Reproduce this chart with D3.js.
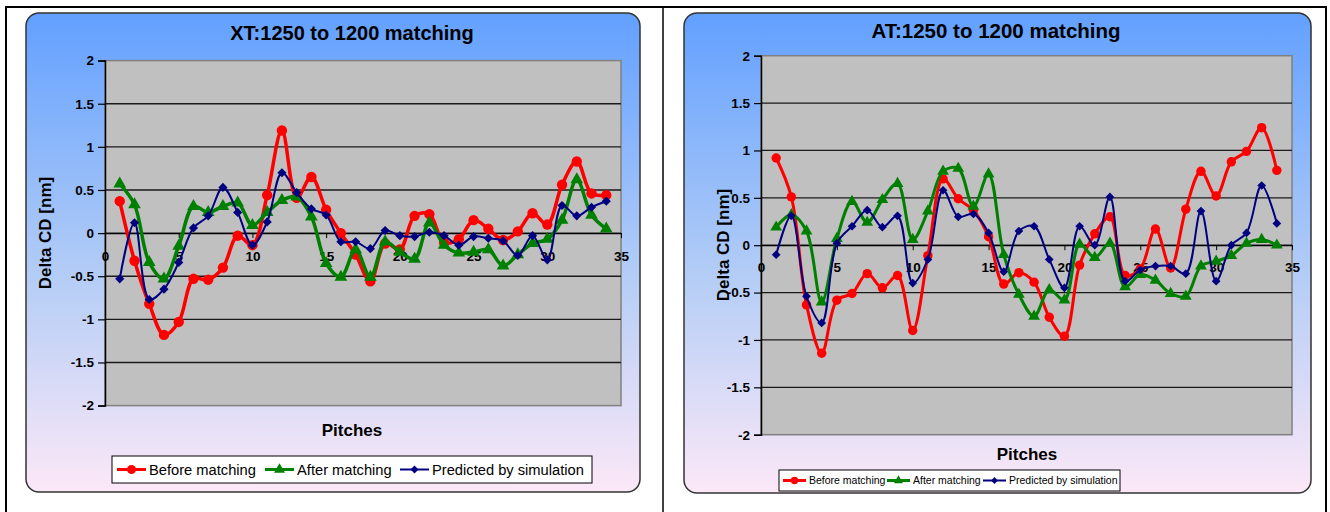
<!DOCTYPE html>
<html>
<head>
<meta charset="utf-8">
<script src="https://cdn.jsdelivr.net/npm/d3@7"></script>
<style>
  body { margin: 0; background: #fff; }
  text { font-family: "Liberation Sans", Arial, sans-serif; }
</style>
</head>
<body>
<div id="chart"></div>
<script>
// pitch numbers (x values)
const pitches = [1,2,3,4,5,6,7,8,9,10,11,12,13,14,15,16,17,18,19,20,21,22,23,24,25,26,27,28,29,30,31,32,33,34];
const xTicks = [0,5,10,15,20,25,30,35];
const yTicks = [-2,-1.5,-1,-0.5,0,0.5,1,1.5,2];
const seriesNames = ["Before matching", "After matching", "Predicted by simulation"];

// XT chart
const xtBefore = [0.37,-0.32,-0.82,-1.18,-1.03,-0.53,-0.54,-0.40,-0.03,-0.14,0.44,1.19,0.41,0.65,0.27,0.00,-0.25,-0.56,-0.12,-0.19,0.20,0.22,-0.11,-0.07,0.15,0.05,-0.08,0.02,0.23,0.10,0.56,0.83,0.46,0.44];
const xtAfter  = [0.57,0.33,-0.34,-0.53,-0.15,0.31,0.24,0.31,0.35,0.09,0.24,0.38,0.42,0.19,-0.35,-0.51,-0.19,-0.51,-0.10,-0.22,-0.30,0.12,-0.14,-0.23,-0.22,-0.19,-0.38,-0.25,-0.12,-0.07,0.15,0.62,0.21,0.05];
const xtPred   = [-0.53,0.12,-0.77,-0.65,-0.34,0.06,0.20,0.53,0.24,-0.14,0.13,0.70,0.47,0.28,0.21,-0.10,-0.10,-0.18,0.03,-0.03,-0.04,0.01,-0.03,-0.14,-0.04,-0.06,-0.09,-0.26,-0.03,-0.31,0.32,0.20,0.30,0.37];

// AT chart
const atBefore = [0.92,0.51,-0.63,-1.14,-0.58,-0.51,-0.30,-0.45,-0.32,-0.90,-0.11,0.70,0.49,0.37,0.09,-0.41,-0.29,-0.39,-0.76,-0.96,-0.21,0.12,0.30,-0.32,-0.25,0.17,-0.24,0.38,0.78,0.52,0.88,0.99,1.24,0.79];
const atAfter  = [0.19,0.32,0.15,-0.60,0.07,0.46,0.24,0.48,0.65,0.06,0.36,0.78,0.81,0.41,0.75,-0.10,-0.52,-0.75,-0.47,-0.58,0.01,-0.13,0.02,-0.44,-0.31,-0.37,-0.51,-0.54,-0.22,-0.17,-0.11,0.02,0.06,0.00];
const atPred   = [-0.10,0.31,-0.54,-0.82,0.02,0.20,0.37,0.19,0.31,-0.40,-0.15,0.58,0.30,0.33,0.13,-0.28,0.15,0.20,-0.15,-0.45,0.20,0.00,0.51,-0.38,-0.26,-0.22,-0.22,-0.30,0.36,-0.38,0.00,0.13,0.63,0.23];

const width = 1330, height = 512;
const svg = d3.select("#chart").append("svg")
  .attr("width", width).attr("height", height);

const defs = svg.append("defs");
const grad = defs.append("linearGradient")
  .attr("id", "panelGrad").attr("x1", 0).attr("y1", 0).attr("x2", 0).attr("y2", 1);
grad.append("stop").attr("offset", "0%").attr("stop-color", "#62a0ff");
grad.append("stop").attr("offset", "55%").attr("stop-color", "#b4cdf6");
grad.append("stop").attr("offset", "100%").attr("stop-color", "#fce8f7");

// table borders around the two charts
svg.append("rect").attr("x", 6).attr("y", 7).attr("width", 1320).attr("height", 520)
  .attr("fill", "none").attr("stroke", "#000").attr("stroke-width", 2);
svg.append("line").attr("x1", 663).attr("x2", 663).attr("y1", 7).attr("y2", 512)
  .attr("stroke", "#000").attr("stroke-width", 1.5);

const colors = ["#ff0000", "#008000", "#000080"];
const symbols = [d3.symbolCircle, d3.symbolTriangle, d3.symbolSquare];
const fontFam = "Liberation Sans, Arial, sans-serif";

function drawChart(c) {
  const g = svg.append("g");

  g.append("rect")
    .attr("x", c.panel[0]).attr("y", c.panel[1])
    .attr("width", c.panel[2] - c.panel[0]).attr("height", c.panel[3] - c.panel[1])
    .attr("rx", 13).attr("ry", 13)
    .attr("fill", "url(#panelGrad)")
    .attr("stroke", "#333").attr("stroke-width", 1.5);

  const x = d3.scaleLinear().domain([0, 35]).range([c.plot[0], c.plot[2]]);
  const y = d3.scaleLinear().domain([-2, 2]).range([c.plot[3], c.plot[1]]);

  g.append("rect")
    .attr("x", x(0)).attr("y", y(2))
    .attr("width", x(35) - x(0)).attr("height", y(-2) - y(2))
    .attr("fill", "#c0c0c0").attr("stroke", "#808080").attr("stroke-width", 1.5);

  // gridlines
  g.selectAll(".grid").data(yTicks.filter(d => d > -2 && d < 2))
    .join("line")
    .attr("x1", x(0)).attr("x2", x(35))
    .attr("y1", d => y(d)).attr("y2", d => y(d))
    .attr("stroke", "#1a1a1a").attr("stroke-width", 1.3);

  // y axis
  const yAxis = g.append("g").attr("transform", `translate(${x(0)},0)`)
    .call(d3.axisLeft(y).tickValues(yTicks).tickSize(7).tickPadding(4).tickFormat(d => String(d)));
  yAxis.attr("font-size", c.tickFont).attr("font-family", fontFam).attr("font-weight", "bold");
  yAxis.select(".domain").attr("stroke", "#000").attr("stroke-width", 1.5);
  yAxis.selectAll(".tick line").attr("stroke", "#000").attr("stroke-width", 1.2);
  yAxis.selectAll(".tick text").attr("fill", "#000");

  // x axis crossing at zero
  const xAxis = g.append("g").attr("transform", `translate(0,${y(0)})`)
    .call(d3.axisBottom(x).tickValues(xTicks).tickSize(5).tickPadding(c.xPad).tickSizeOuter(0).tickFormat(d => String(d)));
  xAxis.attr("font-size", c.tickFont).attr("font-family", fontFam).attr("font-weight", "bold");
  xAxis.select(".domain").attr("stroke", "#000").attr("stroke-width", 1.3);
  xAxis.selectAll(".tick line").attr("stroke", "#000");
  xAxis.selectAll(".tick text").attr("fill", "#000");

  // series
  const line = d3.line()
    .x((d, i) => x(pitches[i]))
    .y(d => y(d))
    .curve(d3.curveCatmullRom.alpha(0.5));

  c.series.forEach((vals, k) => {
    g.append("path").datum(vals)
      .attr("d", line)
      .attr("fill", "none")
      .attr("stroke", colors[k])
      .attr("stroke-width", c.lineW[k]);
    g.selectAll(".m" + k).data(vals).join("path")
      .attr("transform", (d, i) => `translate(${x(pitches[i])},${y(d)})` + (k === 2 ? " rotate(45)" : ""))
      .attr("d", d3.symbol().type(symbols[k]).size(c.markSize[k]))
      .attr("fill", colors[k]);
  });

  // titles
  g.append("text").attr("x", c.titlePos[0]).attr("y", c.titlePos[1])
    .attr("text-anchor", "middle").attr("font-size", c.titleFont).attr("font-weight", "bold")
    .text(c.title);
  g.append("text").attr("x", c.xLabelPos[0]).attr("y", c.xLabelPos[1])
    .attr("text-anchor", "middle").attr("font-size", 17).attr("font-weight", "bold")
    .text("Pitches");
  g.append("text")
    .attr("transform", `translate(${c.yLabelPos[0]},${c.yLabelPos[1]}) rotate(-90)`)
    .attr("text-anchor", "middle").attr("font-size", 17).attr("font-weight", "bold")
    .text("Delta CD [nm]");

  // legend
  const L = c.legend;
  g.append("rect").attr("x", L.box[0]).attr("y", L.box[1])
    .attr("width", L.box[2] - L.box[0]).attr("height", L.box[3] - L.box[1])
    .attr("fill", "#fff").attr("stroke", "#000").attr("stroke-width", 1);
  const cy = (L.box[1] + L.box[3]) / 2;
  seriesNames.forEach((name, k) => {
    const x0 = L.items[k];
    g.append("line").attr("x1", x0).attr("x2", x0 + L.sample)
      .attr("y1", cy).attr("y2", cy)
      .attr("stroke", colors[k]).attr("stroke-width", c.lineW[k] < 2.5 ? 2 : 3);
    g.append("path")
      .attr("transform", `translate(${x0 + L.sample / 2},${cy})` + (k === 2 ? " rotate(45)" : ""))
      .attr("d", d3.symbol().type(symbols[k]).size(c.markSize[k] * L.markScale))
      .attr("fill", colors[k]);
    g.append("text").attr("x", x0 + L.sample + 3).attr("y", cy)
      .attr("dy", "0.35em").attr("font-size", L.font)
      .text(name);
  });
}

drawChart({
  title: "XT:1250 to 1200 matching",
  titleFont: 20,
  panel: [26, 13, 640, 492],
  plot: [105, 60.6, 621, 405.6],
  series: [xtBefore, xtAfter, xtPred],
  lineW: [3.5, 3.5, 2],
  markSize: [85, 70, 42],
  tickFont: 13.5,
  xPad: 13,
  titlePos: [352, 40],
  xLabelPos: [352, 436],
  yLabelPos: [51, 233],
  legend: { box: [112, 456, 592, 483], items: [117, 265, 400], sample: 29, font: 14.7, markScale: 0.75 }
});

drawChart({
  title: "AT:1250 to 1200 matching",
  titleFont: 20.5,
  panel: [684, 13, 1311, 493],
  plot: [761, 55.7, 1292, 434.7],
  series: [atBefore, atAfter, atPred],
  lineW: [3, 3, 2],
  markSize: [70, 60, 38],
  tickFont: 13.5,
  xPad: 12,
  titlePos: [996, 38],
  xLabelPos: [1027, 460],
  yLabelPos: [729, 245],
  legend: { box: [779, 470, 1120, 491], items: [783, 887, 983], sample: 23, font: 10.5, markScale: 0.6 }
});
</script>
</body>
</html>
